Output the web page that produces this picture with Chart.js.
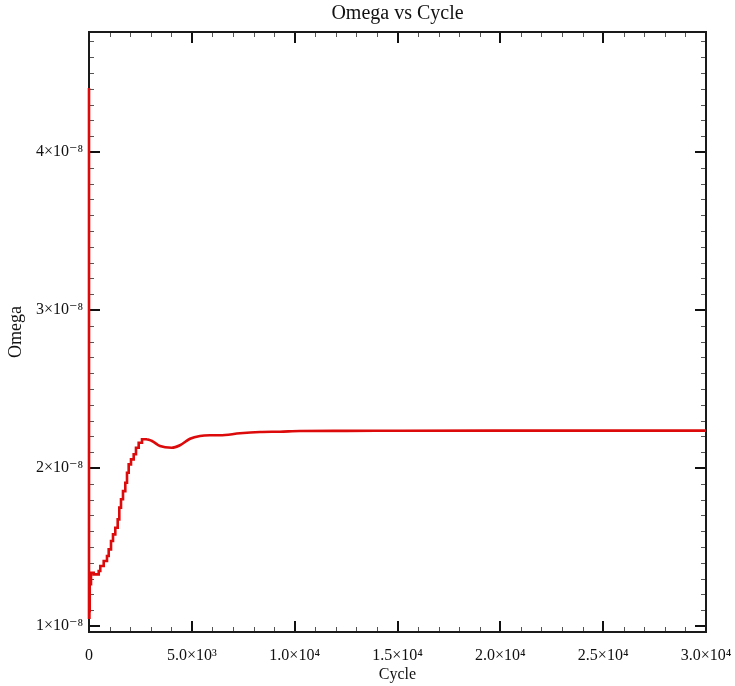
<!DOCTYPE html>
<html>
<head>
<meta charset="utf-8">
<script src="https://cdn.jsdelivr.net/npm/chart.js@4"></script>
<style>
  html, body { margin: 0; padding: 0; background: #fff; }
  #wrap { width: 735px; height: 686px; }
</style>
</head>
<body>
<div id="wrap"><canvas id="c" width="735" height="686"></canvas></div>
<script>
// ---- data ----
const riseCycles = [0, 20, 34, 97, 229, 472, 549, 715, 875, 958, 1070, 1167, 1279, 1395, 1473, 1556, 1653, 1765, 1848, 1930, 2042, 2173, 2285, 2416, 2577, 2820];
const riseOmega = [4.405e-8, 1.053e-8, 1.095e-8, 1.264e-8, 1.337e-8, 1.327e-8, 1.348e-8, 1.380e-8, 1.411e-8, 1.443e-8, 1.485e-8, 1.538e-8, 1.580e-8, 1.622e-8, 1.675e-8, 1.749e-8, 1.802e-8, 1.854e-8, 1.907e-8, 1.970e-8, 2.023e-8, 2.055e-8, 2.087e-8, 2.128e-8, 2.160e-8, 2.182e-8];
const settleCycles = [2820, 3063, 3452, 4021, 4424, 4911, 5397, 5883, 6369, 7342, 8314, 9287, 10259, 12500, 15121, 20000, 25000, 30000];
const settleOmega = [2.182e-8, 2.171e-8, 2.139e-8, 2.128e-8, 2.144e-8, 2.185e-8, 2.203e-8, 2.207e-8, 2.207e-8, 2.220e-8, 2.228e-8, 2.230e-8, 2.234e-8, 2.235e-8, 2.236e-8, 2.237e-8, 2.237e-8, 2.237e-8];
const xMajorTicks = [0, 5000, 10000, 15000, 20000, 25000, 30000];
const yMajorTicks = [1e-8, 2e-8, 3e-8, 4e-8];
const xMinorStep = 1000;
const yMinorStep = 0.1e-8;

const SUP = {'0':'⁰','1':'¹','2':'²','3':'³','4':'⁴','5':'⁵','6':'⁶','7':'⁷','8':'⁸','9':'⁹','-':'⁻'};
const sup = s => String(s).split('').map(ch => SUP[ch] || ch).join('');
function sci(v, digits) {
  if (v === 0) return '0';
  const e = Math.floor(Math.log10(Math.abs(v)) + 1e-9);
  const m = v / Math.pow(10, e);
  return (digits === 0 ? String(Math.round(m)) : m.toFixed(digits)) + '×10' + sup(e);
}

const RED = '#dc0a0a';
const FONT = "'Liberation Serif', 'DejaVu Serif', serif";

const frameTicks = {
  id: 'frameTicks',
  beforeDatasetsDraw(chart) {
    const {ctx, chartArea: a, scales: {x, y}} = chart;
    ctx.save();
    // minor ticks
    ctx.strokeStyle = '#555';
    ctx.lineWidth = 1;
    ctx.beginPath();
    for (let v = x.min; v <= x.max + 1e-6; v += xMinorStep) {
      const px = Math.round(x.getPixelForValue(v)) + 0.5;
      ctx.moveTo(px, a.bottom); ctx.lineTo(px, a.bottom - 5);
      ctx.moveTo(px, a.top); ctx.lineTo(px, a.top + 5);
    }
    for (let k = Math.ceil(y.min / yMinorStep - 1e-6); k * yMinorStep <= y.max; k++) {
      const py = Math.round(y.getPixelForValue(k * yMinorStep)) + 0.5;
      ctx.moveTo(a.left, py); ctx.lineTo(a.left + 5, py);
      ctx.moveTo(a.right, py); ctx.lineTo(a.right - 5, py);
    }
    ctx.stroke();
    // major ticks
    ctx.strokeStyle = '#111';
    ctx.lineWidth = 2;
    ctx.beginPath();
    xMajorTicks.forEach(v => {
      const px = Math.round(x.getPixelForValue(v));
      ctx.moveTo(px, a.bottom); ctx.lineTo(px, a.bottom - 11);
      ctx.moveTo(px, a.top); ctx.lineTo(px, a.top + 11);
    });
    yMajorTicks.forEach(v => {
      const py = Math.round(y.getPixelForValue(v));
      ctx.moveTo(a.left, py); ctx.lineTo(a.left + 11, py);
      ctx.moveTo(a.right, py); ctx.lineTo(a.right - 11, py);
    });
    ctx.stroke();
    // frame
    ctx.strokeStyle = '#1a1a1a';
    ctx.lineWidth = 2;
    ctx.strokeRect(a.left, a.top, a.right - a.left, a.bottom - a.top);
    ctx.restore();
  }
};

new Chart(document.getElementById('c'), {
  type: 'line',
  data: {
    datasets: [
      {
        label: 'Omega (rise)',
        data: riseCycles.map((c, i) => ({x: c, y: riseOmega[i]})),
        borderColor: RED, borderWidth: 2.6, pointRadius: 0,
        stepped: 'after', clip: 6, fill: false
      },
      {
        label: 'Omega',
        data: settleCycles.map((c, i) => ({x: c, y: settleOmega[i]})),
        borderColor: RED, borderWidth: 2.6, pointRadius: 0,
        tension: 0.4, cubicInterpolationMode: 'monotone', clip: 6, fill: false
      }
    ]
  },
  options: {
    responsive: false,
    animation: false,
    events: [],
    layout: { padding: { left: 0, right: 29, top: 0, bottom: 0 } },
    plugins: {
      legend: { display: false },
      tooltip: { enabled: false },
      title: {
        display: true, text: 'Omega vs Cycle', fullSize: false,
        color: '#111', font: { family: FONT, size: 20, weight: 'normal' },
        padding: { top: 2, bottom: 6 }
      }
    },
    scales: {
      x: {
        type: 'linear', min: 0, max: 30000,
        grid: { display: false, drawTicks: false },
        border: { display: false },
        afterBuildTicks: s => { s.ticks = xMajorTicks.map(v => ({value: v})); },
        afterFit: s => { s.height = 54; s.paddingLeft = 0; s.paddingRight = 0; },
        ticks: {
          color: '#111', padding: 14, maxRotation: 0, autoSkip: false,
          font: { family: FONT, size: 16 },
          callback: v => sci(v, 1)
        },
        title: {
          display: true, text: 'Cycle', color: '#111',
          font: { family: FONT, size: 16 }, padding: { top: 0, bottom: 2 }
        }
      },
      y: {
        type: 'linear', min: 0.962e-8, max: 4.76e-8,
        grid: { display: false, drawTicks: false },
        border: { display: false },
        afterBuildTicks: s => { s.ticks = yMajorTicks.map(v => ({value: v})); },
        afterFit: s => { s.width = 89; s.paddingTop = 0; s.paddingBottom = 0; },
        ticks: {
          color: '#111', padding: 6, autoSkip: false,
          font: { family: FONT, size: 16 },
          callback: v => sci(v, 0)
        },
        title: {
          display: true, text: 'Omega', color: '#111',
          font: { family: FONT, size: 18 }, padding: { top: 5, bottom: 0 }
        }
      }
    }
  },
  plugins: [frameTicks]
});
</script>
</body>
</html>
